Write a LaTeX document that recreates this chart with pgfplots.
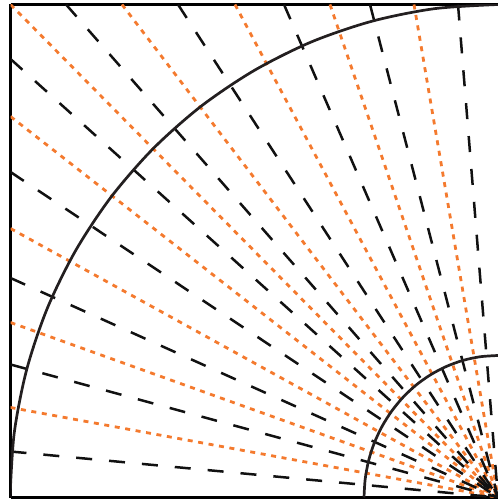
\documentclass[border=0pt]{standalone}
\usepackage{pgfplots}
\pgfplotsset{compat=1.18}
\definecolor{rayorange}{HTML}{F47A2E}
\definecolor{rayblack}{HTML}{111111}
\definecolor{arcblack}{HTML}{231F20}
\pgfplotsset{
  blackray/.style={no marks, color=rayblack, line width=2.5bp, dash pattern=on 16bp off 17bp},
  orangeray/.style={no marks, color=rayorange, line width=2.8bp, dash pattern=on 5bp off 5.6bp},
  arc/.style={no marks, smooth, color=arcblack, line width=2.7bp},
}
\begin{document}
\begin{tikzpicture}
\path[use as bounding box] (0,0) rectangle (498bp,500bp);
\begin{axis}[
  at={(10.5bp,2.5bp)}, anchor=south west,
  scale only axis, width=487.5bp, height=493bp,
  xmin=-487.5, xmax=0, ymin=0, ymax=493,
  axis x line*=box, axis y line*=left,
  axis line style={line width=3bp, color=black, -},
  xtick=\empty, ytick=\empty,
]
% orange rays, edge to centre
\addplot[orangeray] coordinates {(-487.5,90)(0,0)};
\addplot[orangeray] coordinates {(-487.5,175)(0,0)};
\addplot[orangeray] coordinates {(-487.5,269)(0,0)};
\addplot[orangeray] coordinates {(-487.5,381)(0,0)};
\addplot[orangeray] coordinates {(-487.5,493)(0,0)};
\addplot[orangeray] coordinates {(-376,493)(0,0)};
\addplot[orangeray] coordinates {(-263,493)(0,0)};
\addplot[orangeray] coordinates {(-168,493)(0,0)};
\addplot[orangeray] coordinates {(-84,493)(0,0)};
% black rays
\addplot[blackray] coordinates {(-487.5,46)(0,0)};
\addplot[blackray] coordinates {(-487.5,133)(0,0)};
\addplot[blackray] coordinates {(-487.5,219.5)(0,0)};
\addplot[blackray] coordinates {(-487.5,325.5)(0,0)};
\addplot[blackray] coordinates {(-487.5,438.5)(0,0)};
\addplot[blackray] coordinates {(-432,493)(0,0)};
\addplot[blackray] coordinates {(-320,493)(0,0)};
\addplot[blackray] coordinates {(-214,493)(0,0)};
\addplot[blackray] coordinates {(-128,493)(0,0)};
\addplot[blackray] coordinates {(-40,493)(0,0)};
% arcs
\addplot[arc] coordinates {(-488,0)(-483.8,64.3)(-471.4,127.6)(-450.9,188.7)(-422.6,246.5)(-387.2,300.1)(-345.1,348.6)(-297.1,391.1)(-244,426.9)(-186.8,455.5)(-126.3,476.2)(-63.7,488.8)(0,493)};
\addplot[arc] coordinates {(-134,0)(-132.8,18.5)(-129.4,36.8)(-123.8,54.3)(-116,71)(-106.3,86.4)(-94.8,100.4)(-81.6,112.7)(-67,123)(-51.3,131.2)(-34.7,137.2)(-17.5,140.8)(0,142)};
\end{axis}
\end{tikzpicture}
\end{document}
